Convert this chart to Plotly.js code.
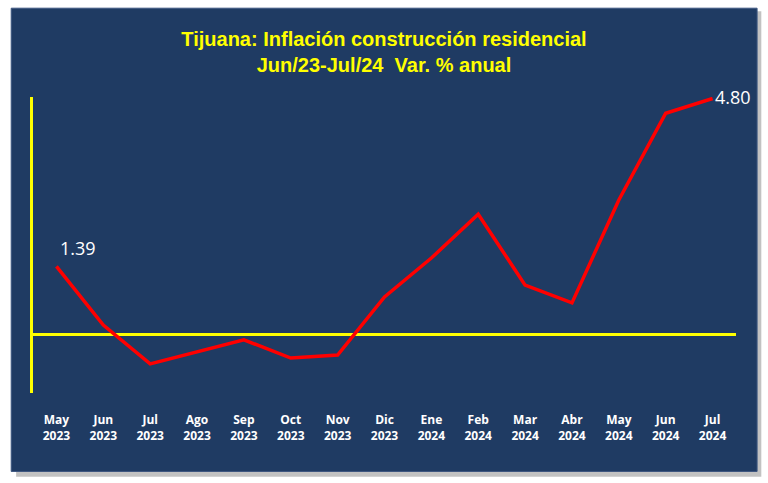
<!DOCTYPE html>
<html>
<head>
<meta charset="utf-8">
<script src="https://cdn.plot.ly/plotly-3.0.1.min.js"></script>
<style>
  body { margin: 0; background: #ffffff; }
  #plotArea { width: 768px; height: 483px; }
</style>
</head>
<body>
<div id="plotArea"></div>
<script>
// Tijuana: residential construction inflation, annual % change
var months = ["May<br>2023", "Jun<br>2023", "Jul<br>2023", "Ago<br>2023", "Sep<br>2023", "Oct<br>2023", "Nov<br>2023",
              "Dic<br>2023", "Ene<br>2024", "Feb<br>2024", "Mar<br>2024", "Abr<br>2024", "May<br>2024", "Jun<br>2024", "Jul<br>2024"];
var inflation = [1.39, 0.20, -0.59, -0.34, -0.10, -0.47, -0.41, 0.77, 1.56, 2.45, 1.01, 0.65, 2.74, 4.50, 4.80];

var first = 0;
var last = inflation.length - 1;

var trace = {
    x: months,
    y: inflation,
    type: "scatter",
    mode: "lines",
    line: {color: "#ff0000", width: 3.5},
    hoverinfo: "x+y"
};

var layout = {
    width: 768,
    height: 483,
    margin: {l: 33, r: 32, t: 97, b: 90},
    paper_bgcolor: "#ffffff",
    plot_bgcolor: "rgba(0,0,0,0)",
    showlegend: false,
    title: {
        text: "Tijuana: Inflación construcción residencial<br>Jun/23-Jul/24  Var. % anual",
        font: {family: "Liberation Sans Narrow, Arial Narrow, sans-serif", size: 20, color: "#ffff00", weight: "bold"},
        x: 0.5,
        xanchor: "center",
        y: 0.905,
        yanchor: "top"
    },
    xaxis: {
        type: "category",
        range: [-0.5, 14.5],
        showgrid: false,
        zeroline: false,
        showline: false,
        ticks: "",
        ticklabelstandoff: 18,
        tickfont: {family: "Open Sans, sans-serif", size: 12, color: "#ffffff", weight: "bold"},
        fixedrange: true
    },
    yaxis: {
        range: [-1.18, 4.83],
        showgrid: false,
        showticklabels: false,
        ticks: "",
        showline: true,
        linecolor: "#ffff00",
        linewidth: 3,
        zeroline: true,
        zerolinecolor: "#ffff00",
        zerolinewidth: 3,
        fixedrange: true
    },
    shapes: [
        // drop shadow of the frame
        {type: "rect", xref: "paper", yref: "paper", layer: "below",
         x0: -0.024, x1: 1.036, y0: -0.283, y1: 1.29,
         fillcolor: "#9a9a9a", line: {width: 0}, opacity: 0.6},
        // dark blue frame
        {type: "rect", xref: "paper", yref: "paper", layer: "below",
         x0: -0.031, x1: 1.03, y0: -0.265, y1: 1.30,
         fillcolor: "#1f3b63", line: {color: "#3c5680", width: 1}}
    ],
    annotations: [
        {x: months[first], y: inflation[first], text: inflation[first].toFixed(2),
         xref: "x", yref: "y", showarrow: false, xanchor: "left", yanchor: "bottom",
         xshift: 2, yshift: 4,
         font: {family: "Open Sans, sans-serif", size: 18, color: "#ffffff"}},
        {x: months[last], y: inflation[last], text: inflation[last].toFixed(2),
         xref: "x", yref: "y", showarrow: false, xanchor: "left", yanchor: "middle",
         xshift: 0, yshift: 1,
         font: {family: "Open Sans, sans-serif", size: 18, color: "#ffffff"}}
    ]
};

Plotly.newPlot("plotArea", [trace], layout, {displayModeBar: false, staticPlot: true});
</script>
</body>
</html>
